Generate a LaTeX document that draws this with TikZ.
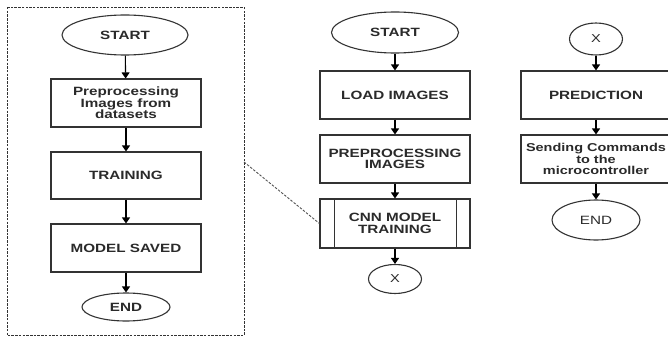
\documentclass[tikz,border=0pt]{standalone}
\usepackage{fontspec}
\newfontfamily\lab{Liberation Sans}[FakeStretch=1.27]
\usetikzlibrary{shapes.geometric,arrows.meta}
\definecolor{ln}{HTML}{333333}
\definecolor{tx}{HTML}{2A2A2A}
\tikzset{
  box/.style={draw=ln,line width=1.1pt,rectangle,minimum width=150pt,minimum height=48pt,inner sep=1pt,align=center,text=tx,font=\lab\bfseries\fontsize{12}{11.5}\selectfont},
  oval/.style={draw=ln,line width=1.1pt,ellipse,inner sep=0pt,align=center,text=tx,font=\lab\bfseries\fontsize{12}{11.5}\selectfont},
  flow/.style={draw=black,line width=1.1pt,-{Triangle[length=6pt,width=8pt]}},
  frame/.style={draw=ln,line width=0.9pt,dash pattern=on 2.5pt off 1.2pt},
  link/.style={draw=ln!85,line width=0.9pt,dash pattern=on 2.5pt off 1.5pt}
}
\begin{document}
\begin{tikzpicture}[x=1pt,y=-1pt]
\useasboundingbox (0,0) rectangle (668,337);
% frame round the left flow
\draw[frame] (7,7) rectangle (244,335.5);
\coordinate (fr) at (244,162);
% left column
\node[oval,minimum width=126pt,minimum height=40pt] (s1) at (125,35) {START};
\node[box] (p1) at (126,103) {Preprocessing\\Images from\\datasets};
\node[box,minimum height=47pt] (t1) at (126,175.5) {TRAINING};
\node[box] (m1) at (126,248) {MODEL SAVED};
\node[oval,minimum width=88pt,minimum height=28pt] (e1) at (126,307) {END};
\draw[flow] (s1) -- (p1);
\draw[flow] (p1) -- (t1);
\draw[flow] (t1) -- (m1);
\draw[flow] (m1) -- (e1);
% middle column
\node[oval,minimum width=127pt,minimum height=41pt] (s2) at (395,32.5) {START};
\node[box] (l2) at (395,95) {LOAD IMAGES};
\node[box] (pp2) at (395,159) {PREPROCESSING\\IMAGES};
\node[box,minimum height=49pt] (c2) at (395,223.5) {CNN MODEL\\TRAINING};
\draw[draw=ln,line width=1.1pt] ([xshift=15pt]c2.north west) -- ([xshift=15pt]c2.south west);
\draw[draw=ln,line width=1.1pt] ([xshift=-14pt]c2.north east) -- ([xshift=-14pt]c2.south east);
\node[oval,minimum width=53pt,minimum height=29pt,font=\lab\fontsize{11.5}{11}\selectfont] (x2) at (395,279) {X};
\draw[flow] (s2) -- (l2);
\draw[flow] (l2) -- (pp2);
\draw[flow] (pp2) -- (c2);
\draw[flow] (c2) -- (x2);
% right column
\node[oval,minimum width=53pt,minimum height=32pt,font=\lab\fontsize{11.5}{11}\selectfont] (x3) at (596,39) {X};
\node[box] (pr3) at (596,95) {PREDICTION};
\node[box,font=\lab\bfseries\fontsize{11.4}{11.8}\selectfont] (sc3) at (596,159) {Sending Commands\\to the\\microcontroller};
\node[oval,minimum width=88pt,minimum height=40pt,font=\lab\fontsize{12}{11.5}\selectfont] (e3) at (596,220) {END};
\draw[flow] (x3) -- (pr3);
\draw[flow] (pr3) -- (sc3);
\draw[flow] (sc3) -- (e3);
% dashed link
\draw[link] (fr) -- (c2.west);
\end{tikzpicture}
\end{document}
